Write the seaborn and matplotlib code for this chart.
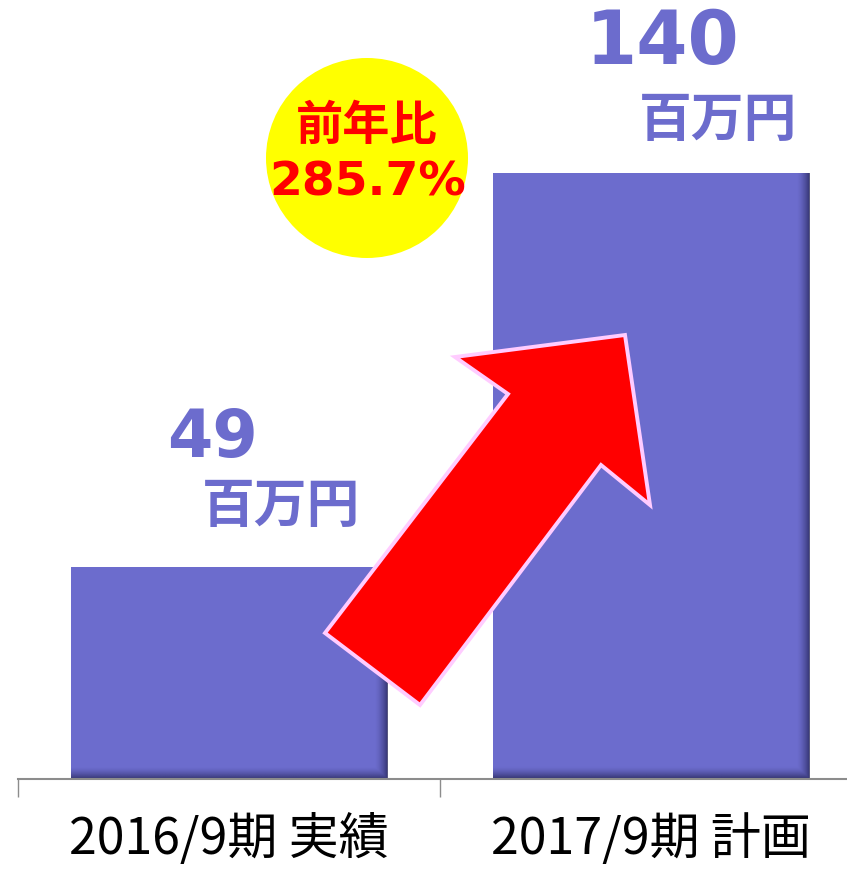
import numpy as np
import pandas as pd
import matplotlib
matplotlib.use("Agg")
import matplotlib.pyplot as plt
import seaborn as sns
from matplotlib.patches import Polygon, Ellipse
from matplotlib.transforms import Affine2D

# ---- data ----
categories = ["2016/9期 実績", "2017/9期 計画"]
values = [49, 140]
value_labels = ["49", "140"]
unit_label = "百万円"
growth_title = "前年比"
growth_value = "285.7%"

BAR = "#6C6CCD"
SHADOW = "#26265A"
AXIS = "#8C8C8C"

sns.set_theme(style="white")
plt.rcParams["font.family"] = ["Noto Sans CJK JP", "DejaVu Sans"]

W, H = 847, 871
fig = plt.figure(figsize=(W / 100, H / 100), dpi=100)
ax = fig.add_axes([18 / W, 92 / H, 844 / W, 779 / H])

df = pd.DataFrame({"cat": categories, "val": values})
sns.barplot(data=df, x="cat", y="val", color=BAR, saturation=1, width=0.75,
            linewidth=0, ax=ax, zorder=2)
ax.set_xlim(-0.5, 1.5)
ax.set_ylim(0, 180)

# inner shadow on the right and bottom edge of each bar
for p in list(ax.patches):
    x0, y0, w, h = p.get_x(), p.get_y(), p.get_width(), p.get_height()
    (px0, py0), (px1, py1) = ax.transData.transform([(x0, y0), (x0 + w, y0 + h)])
    wpx, hpx = px1 - px0, py1 - py0
    nx, ny = 400, 400
    u = np.linspace(0, 1, nx)[None, :]
    v = np.linspace(0, 1, ny)[:, None]
    ar = np.clip(1 - (1 - u) * wpx / 13.0, 0, 1) ** 1.6
    ab = np.clip(1 - v * hpx / 12.0, 0, 1) ** 1.5
    alpha = np.maximum(ar, ab) * 0.78
    rgb = matplotlib.colors.to_rgb(SHADOW)
    img = np.zeros((ny, nx, 4))
    img[..., 0], img[..., 1], img[..., 2] = rgb
    img[..., 3] = alpha
    ax.imshow(img, extent=[x0, x0 + w, y0, y0 + h], origin="lower",
              aspect="auto", interpolation="bilinear", zorder=2.5)
ax.set_xlim(-0.5, 1.5)
ax.set_ylim(0, 180)

# axes styling
for s in ["left", "top", "right"]:
    ax.spines[s].set_visible(False)
ax.spines["bottom"].set_color(AXIS)
ax.spines["bottom"].set_linewidth(1.5)
ax.spines["bottom"].set_zorder(3)
ax.set_yticks([])
ax.set_xlabel("")
ax.set_ylabel("")
ax.set_xticks([-0.5, 0.5, 1.5], minor=True)
ax.tick_params(axis="x", which="major", bottom=False, length=0, pad=25,
               labelsize=36, labelcolor="black")
ax.tick_params(axis="x", which="minor", bottom=True, length=13, width=1,
               color=AXIS, direction="out")

# value labels
num_sizes = [47, 53]
num_offsets = [(-17, 128), (12, 130)]
unit_offsets = [(52, 60), (67, 53)]
for i, (val, lab) in enumerate(zip(values, value_labels)):
    ax.annotate(lab, xy=(i, val), xytext=num_offsets[i], textcoords="offset pixels",
                ha="center", va="center", fontsize=num_sizes[i], fontweight="bold",
                color=BAR, family=["DejaVu Sans"], annotation_clip=False)
    ax.annotate(unit_label, xy=(i, val), xytext=unit_offsets[i], textcoords="offset pixels",
                ha="center", va="center", fontsize=38, fontweight="bold",
                color=BAR, annotation_clip=False)

# pixel-based transform for decorations
tpx = Affine2D().scale(1 / W, -1 / H).translate(0, 1) + fig.transFigure

circ = Ellipse((367, 158), 202, 200, transform=tpx, facecolor="#FFFF00",
               edgecolor="none", zorder=5)
fig.add_artist(circ)
fig.text(367 / W, 1 - 126 / H, growth_title, ha="center", va="center",
         fontsize=34, fontweight="bold", color="#FF0000", zorder=6)
fig.text(368 / W, 1 - 183 / H, growth_value, ha="center", va="center",
         fontsize=34, fontweight="bold", color="#FF0000", zorder=6,
         family=["DejaVu Sans"])

arrow_pts = [(325, 633), (420, 705), (601, 465), (650, 505),
             (625, 335), (455, 357), (508, 394)]
arrow = Polygon(arrow_pts, closed=True, transform=tpx, facecolor="#FF0000",
                edgecolor="#FFCCFF", linewidth=2.8, joinstyle="miter", zorder=7)
fig.add_artist(arrow)

fig.savefig("out.png", dpi=100)
